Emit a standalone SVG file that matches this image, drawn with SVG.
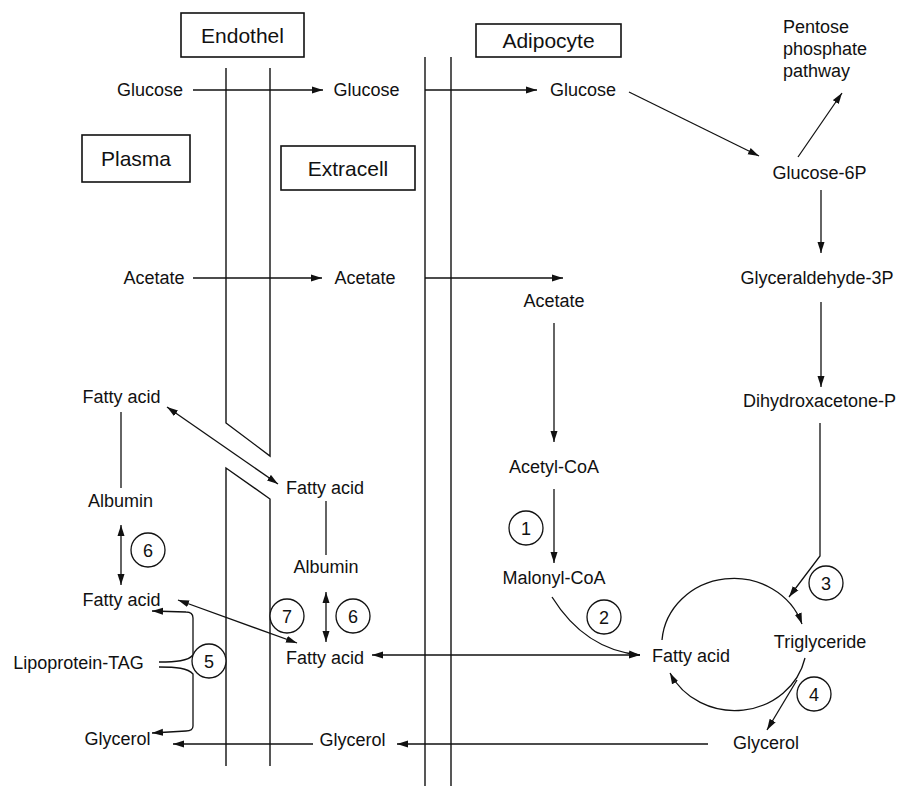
<svg xmlns="http://www.w3.org/2000/svg" width="901" height="786" viewBox="0 0 901 786">
<style>
text{font-family:"Liberation Sans",Arial,sans-serif;font-size:18px;fill:#111;text-anchor:middle}
.box{fill:#fff;stroke:#111;stroke-width:1.6}
.bl{font-size:21px}
.wall{fill:none;stroke:#111;stroke-width:1.4}
.c{fill:none;stroke:#111;stroke-width:1.3}
.a{marker-end:url(#ah)}
.d{marker-start:url(#ah);marker-end:url(#ah)}
.num circle{fill:#fff;stroke:#111;stroke-width:1.3}
</style>
<defs>
<marker id="ah" markerUnits="userSpaceOnUse" markerWidth="12" markerHeight="8" refX="11" refY="3.5" orient="auto-start-reverse" viewBox="0 0 12 7">
<path d="M0,0 L11,3.5 L0,7 z" fill="#111"/>
</marker>
</defs>
<rect width="901" height="786" fill="#fff"/>

<g id="membranes">
<path class="wall" d="M226,68 V423 L270,456 V68"/>
<path class="wall" d="M226,766 V468 L270,499 V766"/>
<line class="wall" x1="425" y1="57" x2="425" y2="786"/>
<line class="wall" x1="451" y1="57" x2="451" y2="786"/>
</g>

<g id="connectors">
<line class="c a" x1="193" y1="90" x2="323" y2="90"/>
<line class="c a" x1="425" y1="90" x2="537" y2="90"/>
<line class="c a" x1="629" y1="92" x2="759" y2="156"/>
<line class="c a" x1="798" y1="157" x2="842" y2="93"/>
<line class="c a" x1="821" y1="190" x2="821" y2="253"/>
<line class="c a" x1="821" y1="302" x2="821" y2="387"/>
<path class="c a" d="M820,423 V556 L789,597"/>
<line class="c a" x1="193" y1="278" x2="322" y2="278"/>
<line class="c a" x1="425" y1="278" x2="563" y2="278"/>
<line class="c a" x1="554" y1="323" x2="554" y2="442"/>
<line class="c a" x1="554" y1="489" x2="554" y2="563"/>
<path class="c a" d="M552,597 Q585,650 640,655"/>
<line class="c d" x1="372" y1="655" x2="640" y2="655"/>
<path class="c a" d="M662,640 A72,67 0 0 1 802,624"/>
<path class="c a" d="M805,658 A72,67 0 0 1 670,673"/>
<line class="c a" x1="797" y1="680" x2="767" y2="730"/>
<line class="c a" x1="708" y1="744" x2="397" y2="744"/>
<line class="c a" x1="313" y1="744" x2="173" y2="744"/>
<line class="c d" x1="167" y1="407" x2="278" y2="484"/>
<line class="c" x1="121" y1="412" x2="121" y2="488"/>
<line class="c d" x1="121" y1="525" x2="121" y2="585"/>
<line class="c" x1="326" y1="501" x2="326" y2="555"/>
<line class="c d" x1="326" y1="592" x2="326" y2="642"/>
<line class="c d" x1="178" y1="600" x2="297" y2="643"/>
<path class="c a" d="M159,662 C176,662 188,661 193,655 L193,618 Q193,612 186,612 L152,611"/>
<path class="c a" d="M159,667 C176,667 188,668 193,674 L193,726 Q193,731 186,731 L152,733"/>
</g>

<g id="endothel"><rect class="box" x="181" y="13" width="123" height="44"/><text class="bl" x="242.5" y="43">Endothel</text></g>
<g id="plasma"><rect class="box" x="82" y="135" width="108" height="47"/><text class="bl" x="136" y="166">Plasma</text></g>
<g id="extracell"><rect class="box" x="281" y="146" width="134" height="44"/><text class="bl" x="348" y="176">Extracell</text></g>
<g id="adipocyte"><rect class="box" x="476" y="24" width="145" height="33"/><text class="bl" x="548.5" y="48">Adipocyte</text></g>

<g id="glucose-plasma"><text x="150" y="96">Glucose</text></g>
<g id="glucose-extracell"><text x="366.5" y="96">Glucose</text></g>
<g id="glucose-adipocyte"><text x="583" y="96">Glucose</text></g>
<g id="pentose"><text x="783" y="33" style="text-anchor:start">Pentose</text><text x="783" y="55" style="text-anchor:start">phosphate</text><text x="783" y="77" style="text-anchor:start">pathway</text></g>
<g id="glucose-6p"><text x="819.5" y="179">Glucose-6P</text></g>
<g id="glyceraldehyde-3p"><text x="817" y="284">Glyceraldehyde-3P</text></g>
<g id="dihydroxacetone-p"><text x="819.5" y="407">Dihydroxacetone-P</text></g>
<g id="acetate-plasma"><text x="154" y="284">Acetate</text></g>
<g id="acetate-extracell"><text x="365" y="284">Acetate</text></g>
<g id="acetate-adipocyte"><text x="554" y="307">Acetate</text></g>
<g id="acetyl-coa"><text x="554" y="473">Acetyl-CoA</text></g>
<g id="malonyl-coa"><text x="554" y="584">Malonyl-CoA</text></g>
<g id="fattyacid-adipocyte"><text x="691" y="662">Fatty acid</text></g>
<g id="triglyceride"><text x="820" y="648">Triglyceride</text></g>
<g id="glycerol-adipocyte"><text x="766" y="749">Glycerol</text></g>
<g id="glycerol-extracell"><text x="352.5" y="746">Glycerol</text></g>
<g id="glycerol-plasma"><text x="117.5" y="745">Glycerol</text></g>
<g id="fattyacid-plasma-1"><text x="121.5" y="403">Fatty acid</text></g>
<g id="albumin-plasma"><text x="120.5" y="507">Albumin</text></g>
<g id="fattyacid-plasma-2"><text x="121.5" y="606">Fatty acid</text></g>
<g id="fattyacid-extracell-1"><text x="325" y="494">Fatty acid</text></g>
<g id="albumin-extracell"><text x="326" y="573">Albumin</text></g>
<g id="fattyacid-extracell-2"><text x="325" y="664">Fatty acid</text></g>
<g id="lipoprotein-tag"><text x="78.5" y="669">Lipoprotein-TAG</text></g>

<g id="n1" class="num"><circle cx="526" cy="528" r="17"/><text x="526" y="534.5">1</text></g>
<g id="n2" class="num"><circle cx="604" cy="617" r="17"/><text x="604" y="623.5">2</text></g>
<g id="n3" class="num"><circle cx="826" cy="583" r="17"/><text x="826" y="589.5">3</text></g>
<g id="n4" class="num"><circle cx="814" cy="694" r="17"/><text x="814" y="700.5">4</text></g>
<g id="n5" class="num"><circle cx="209" cy="661" r="17"/><text x="209" y="667.5">5</text></g>
<g id="n6a" class="num"><circle cx="148" cy="550" r="17"/><text x="148" y="556.5">6</text></g>
<g id="n6b" class="num"><circle cx="353" cy="616" r="17"/><text x="353" y="622.5">6</text></g>
<g id="n7" class="num"><circle cx="287" cy="616" r="17"/><text x="287" y="622.5">7</text></g>
</svg>
